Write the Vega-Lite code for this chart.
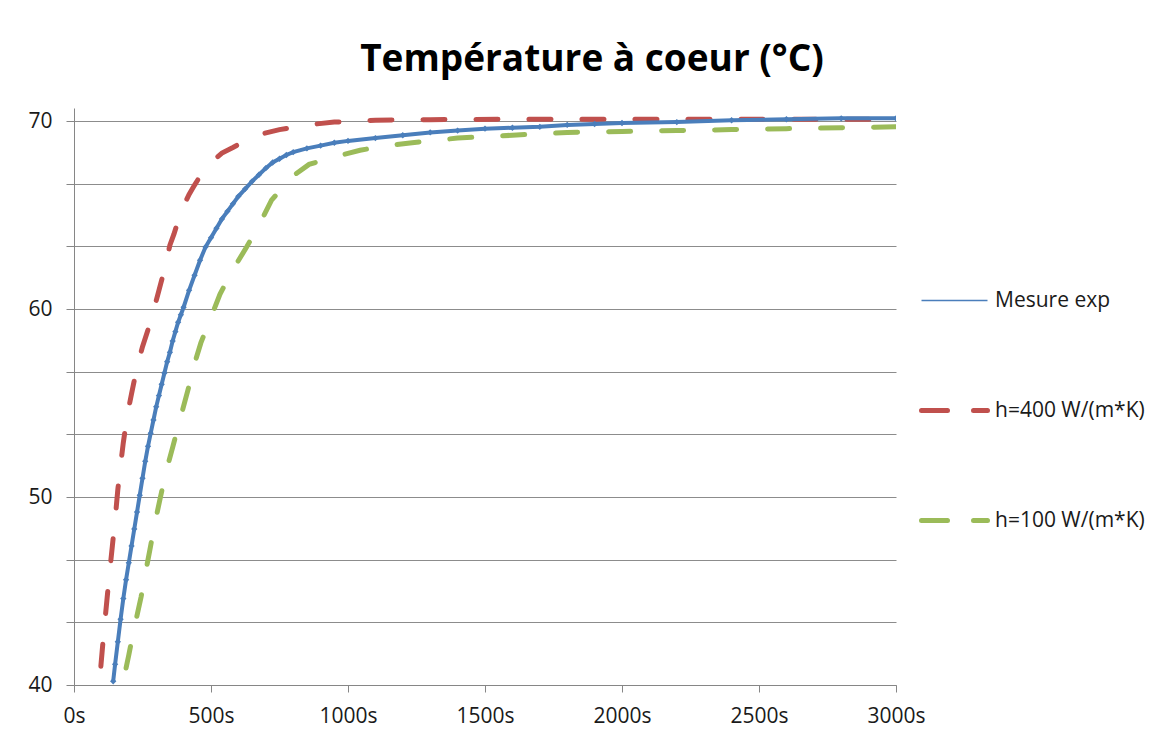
{
  "$schema": "https://vega.github.io/schema/vega-lite/v6.json",
  "width": 822,
  "height": 577,
  "autosize": {"type": "none"},
  "padding": {"left": 74, "top": 108, "right": 270, "bottom": 56},
  "background": "white",
  "title": {
    "text": "Température à coeur (°C)",
    "font": "Open Sans",
    "fontSize": 37,
    "fontWeight": "bold",
    "color": "black",
    "anchor": "middle",
    "dx": 107,
    "offset": 29
  },
  "config": {
    "view": {"stroke": null},
    "axis": {
      "labelFont": "Open Sans",
      "labelFontSize": 21,
      "labelColor": "#1a1a1a",
      "domainColor": "#868686",
      "tickColor": "#868686",
      "gridColor": "#8c8c8c",
      "title": null
    }
  },
  "data": {
    "values": [
      {"serie": "Mesure exp", "temps": 143, "temp": 40.2},
      {"serie": "Mesure exp", "temps": 150, "temp": 41.1},
      {"serie": "Mesure exp", "temps": 160, "temp": 42.3},
      {"serie": "Mesure exp", "temps": 170, "temp": 43.5},
      {"serie": "Mesure exp", "temps": 180, "temp": 44.6},
      {"serie": "Mesure exp", "temps": 190, "temp": 45.6},
      {"serie": "Mesure exp", "temps": 200, "temp": 46.5},
      {"serie": "Mesure exp", "temps": 210, "temp": 47.4},
      {"serie": "Mesure exp", "temps": 220, "temp": 48.3},
      {"serie": "Mesure exp", "temps": 230, "temp": 49.2},
      {"serie": "Mesure exp", "temps": 240, "temp": 50.1},
      {"serie": "Mesure exp", "temps": 250, "temp": 51.0},
      {"serie": "Mesure exp", "temps": 260, "temp": 51.9},
      {"serie": "Mesure exp", "temps": 270, "temp": 52.7},
      {"serie": "Mesure exp", "temps": 280, "temp": 53.4},
      {"serie": "Mesure exp", "temps": 290, "temp": 54.1},
      {"serie": "Mesure exp", "temps": 300, "temp": 54.8},
      {"serie": "Mesure exp", "temps": 310, "temp": 55.4},
      {"serie": "Mesure exp", "temps": 320, "temp": 56.0},
      {"serie": "Mesure exp", "temps": 330, "temp": 56.6},
      {"serie": "Mesure exp", "temps": 340, "temp": 57.2},
      {"serie": "Mesure exp", "temps": 350, "temp": 57.7},
      {"serie": "Mesure exp", "temps": 360, "temp": 58.3},
      {"serie": "Mesure exp", "temps": 370, "temp": 58.8},
      {"serie": "Mesure exp", "temps": 380, "temp": 59.3},
      {"serie": "Mesure exp", "temps": 390, "temp": 59.7},
      {"serie": "Mesure exp", "temps": 400, "temp": 60.1},
      {"serie": "Mesure exp", "temps": 420, "temp": 61.0},
      {"serie": "Mesure exp", "temps": 440, "temp": 61.8},
      {"serie": "Mesure exp", "temps": 460, "temp": 62.6},
      {"serie": "Mesure exp", "temps": 480, "temp": 63.3},
      {"serie": "Mesure exp", "temps": 500, "temp": 63.8},
      {"serie": "Mesure exp", "temps": 520, "temp": 64.3},
      {"serie": "Mesure exp", "temps": 540, "temp": 64.8},
      {"serie": "Mesure exp", "temps": 560, "temp": 65.2},
      {"serie": "Mesure exp", "temps": 580, "temp": 65.6},
      {"serie": "Mesure exp", "temps": 600, "temp": 66.0},
      {"serie": "Mesure exp", "temps": 625, "temp": 66.4},
      {"serie": "Mesure exp", "temps": 650, "temp": 66.8},
      {"serie": "Mesure exp", "temps": 675, "temp": 67.15},
      {"serie": "Mesure exp", "temps": 700, "temp": 67.5},
      {"serie": "Mesure exp", "temps": 725, "temp": 67.8},
      {"serie": "Mesure exp", "temps": 750, "temp": 68.0},
      {"serie": "Mesure exp", "temps": 775, "temp": 68.2},
      {"serie": "Mesure exp", "temps": 800, "temp": 68.35},
      {"serie": "Mesure exp", "temps": 850, "temp": 68.55},
      {"serie": "Mesure exp", "temps": 900, "temp": 68.7},
      {"serie": "Mesure exp", "temps": 950, "temp": 68.85},
      {"serie": "Mesure exp", "temps": 1000, "temp": 68.95},
      {"serie": "Mesure exp", "temps": 1100, "temp": 69.1},
      {"serie": "Mesure exp", "temps": 1200, "temp": 69.25},
      {"serie": "Mesure exp", "temps": 1300, "temp": 69.4},
      {"serie": "Mesure exp", "temps": 1400, "temp": 69.5},
      {"serie": "Mesure exp", "temps": 1500, "temp": 69.6},
      {"serie": "Mesure exp", "temps": 1600, "temp": 69.65},
      {"serie": "Mesure exp", "temps": 1700, "temp": 69.7},
      {"serie": "Mesure exp", "temps": 1800, "temp": 69.8},
      {"serie": "Mesure exp", "temps": 1900, "temp": 69.85},
      {"serie": "Mesure exp", "temps": 2000, "temp": 69.9},
      {"serie": "Mesure exp", "temps": 2200, "temp": 69.95},
      {"serie": "Mesure exp", "temps": 2400, "temp": 70.05},
      {"serie": "Mesure exp", "temps": 2600, "temp": 70.1},
      {"serie": "Mesure exp", "temps": 2800, "temp": 70.15},
      {"serie": "Mesure exp", "temps": 3000, "temp": 70.15},

      {"serie": "h=400 W/(m*K)", "temps": 98, "temp": 41.0},
      {"serie": "h=400 W/(m*K)", "temps": 110, "temp": 43.0},
      {"serie": "h=400 W/(m*K)", "temps": 120, "temp": 44.5},
      {"serie": "h=400 W/(m*K)", "temps": 130, "temp": 46.0},
      {"serie": "h=400 W/(m*K)", "temps": 140, "temp": 47.4},
      {"serie": "h=400 W/(m*K)", "temps": 150, "temp": 48.8},
      {"serie": "h=400 W/(m*K)", "temps": 160, "temp": 50.4},
      {"serie": "h=400 W/(m*K)", "temps": 170, "temp": 51.7},
      {"serie": "h=400 W/(m*K)", "temps": 180, "temp": 52.9},
      {"serie": "h=400 W/(m*K)", "temps": 195, "temp": 54.4},
      {"serie": "h=400 W/(m*K)", "temps": 210, "temp": 55.5},
      {"serie": "h=400 W/(m*K)", "temps": 230, "temp": 56.9},
      {"serie": "h=400 W/(m*K)", "temps": 250, "temp": 58.0},
      {"serie": "h=400 W/(m*K)", "temps": 270, "temp": 58.9},
      {"serie": "h=400 W/(m*K)", "temps": 290, "temp": 59.9},
      {"serie": "h=400 W/(m*K)", "temps": 310, "temp": 61.0},
      {"serie": "h=400 W/(m*K)", "temps": 330, "temp": 62.1},
      {"serie": "h=400 W/(m*K)", "temps": 350, "temp": 63.4},
      {"serie": "h=400 W/(m*K)", "temps": 365, "temp": 64.0},
      {"serie": "h=400 W/(m*K)", "temps": 380, "temp": 64.7},
      {"serie": "h=400 W/(m*K)", "temps": 400, "temp": 65.5},
      {"serie": "h=400 W/(m*K)", "temps": 420, "temp": 66.1},
      {"serie": "h=400 W/(m*K)", "temps": 440, "temp": 66.6},
      {"serie": "h=400 W/(m*K)", "temps": 470, "temp": 67.3},
      {"serie": "h=400 W/(m*K)", "temps": 500, "temp": 67.8},
      {"serie": "h=400 W/(m*K)", "temps": 540, "temp": 68.3},
      {"serie": "h=400 W/(m*K)", "temps": 580, "temp": 68.6},
      {"serie": "h=400 W/(m*K)", "temps": 630, "temp": 69.0},
      {"serie": "h=400 W/(m*K)", "temps": 680, "temp": 69.3},
      {"serie": "h=400 W/(m*K)", "temps": 750, "temp": 69.55},
      {"serie": "h=400 W/(m*K)", "temps": 850, "temp": 69.8},
      {"serie": "h=400 W/(m*K)", "temps": 950, "temp": 69.95},
      {"serie": "h=400 W/(m*K)", "temps": 1100, "temp": 70.05},
      {"serie": "h=400 W/(m*K)", "temps": 1300, "temp": 70.08},
      {"serie": "h=400 W/(m*K)", "temps": 1600, "temp": 70.1},
      {"serie": "h=400 W/(m*K)", "temps": 2000, "temp": 70.1},
      {"serie": "h=400 W/(m*K)", "temps": 2500, "temp": 70.1},
      {"serie": "h=400 W/(m*K)", "temps": 3000, "temp": 70.1},

      {"serie": "h=100 W/(m*K)", "temps": 190, "temp": 40.9},
      {"serie": "h=100 W/(m*K)", "temps": 200, "temp": 41.6},
      {"serie": "h=100 W/(m*K)", "temps": 215, "temp": 42.7},
      {"serie": "h=100 W/(m*K)", "temps": 230, "temp": 43.7},
      {"serie": "h=100 W/(m*K)", "temps": 245, "temp": 44.7},
      {"serie": "h=100 W/(m*K)", "temps": 260, "temp": 45.9},
      {"serie": "h=100 W/(m*K)", "temps": 277, "temp": 47.2},
      {"serie": "h=100 W/(m*K)", "temps": 295, "temp": 48.6},
      {"serie": "h=100 W/(m*K)", "temps": 314, "temp": 49.9},
      {"serie": "h=100 W/(m*K)", "temps": 335, "temp": 51.3},
      {"serie": "h=100 W/(m*K)", "temps": 361, "temp": 52.7},
      {"serie": "h=100 W/(m*K)", "temps": 390, "temp": 54.3},
      {"serie": "h=100 W/(m*K)", "temps": 416, "temp": 55.7},
      {"serie": "h=100 W/(m*K)", "temps": 440, "temp": 57.1},
      {"serie": "h=100 W/(m*K)", "temps": 463, "temp": 58.2},
      {"serie": "h=100 W/(m*K)", "temps": 490, "temp": 59.2},
      {"serie": "h=100 W/(m*K)", "temps": 533, "temp": 60.8},
      {"serie": "h=100 W/(m*K)", "temps": 580, "temp": 62.1},
      {"serie": "h=100 W/(m*K)", "temps": 630, "temp": 63.3},
      {"serie": "h=100 W/(m*K)", "temps": 680, "temp": 64.6},
      {"serie": "h=100 W/(m*K)", "temps": 721, "temp": 65.8},
      {"serie": "h=100 W/(m*K)", "temps": 770, "temp": 66.6},
      {"serie": "h=100 W/(m*K)", "temps": 810, "temp": 67.2},
      {"serie": "h=100 W/(m*K)", "temps": 858, "temp": 67.7},
      {"serie": "h=100 W/(m*K)", "temps": 950, "temp": 68.1},
      {"serie": "h=100 W/(m*K)", "temps": 1044, "temp": 68.45},
      {"serie": "h=100 W/(m*K)", "temps": 1140, "temp": 68.7},
      {"serie": "h=100 W/(m*K)", "temps": 1234, "temp": 68.85},
      {"serie": "h=100 W/(m*K)", "temps": 1400, "temp": 69.1},
      {"serie": "h=100 W/(m*K)", "temps": 1600, "temp": 69.25},
      {"serie": "h=100 W/(m*K)", "temps": 1800, "temp": 69.4},
      {"serie": "h=100 W/(m*K)", "temps": 2000, "temp": 69.45},
      {"serie": "h=100 W/(m*K)", "temps": 2200, "temp": 69.5},
      {"serie": "h=100 W/(m*K)", "temps": 2400, "temp": 69.55},
      {"serie": "h=100 W/(m*K)", "temps": 2600, "temp": 69.6},
      {"serie": "h=100 W/(m*K)", "temps": 2800, "temp": 69.65},
      {"serie": "h=100 W/(m*K)", "temps": 3000, "temp": 69.7}
    ]
  },
  "encoding": {
    "x": {
      "field": "temps",
      "type": "quantitative",
      "scale": {"domain": [0, 3000], "nice": false},
      "axis": {
        "values": [0, 500, 1000, 1500, 2000, 2500, 3000],
        "labelExpr": "datum.value + 's'",
        "grid": false,
        "tickSize": 7,
        "labelPadding": 13,
        "labelFlush": false
      }
    },
    "y": {
      "field": "temp",
      "type": "quantitative",
      "scale": {"domain": [40, 70.7], "nice": false, "zero": false},
      "axis": {
        "values": [40, 43.3333333, 46.6666667, 50, 53.3333333, 56.6666667, 60, 63.3333333, 66.6666667, 70],
        "labelExpr": "datum.value % 10 == 0 ? datum.value : ''",
        "grid": true,
        "tickSize": 8,
        "labelPadding": 14
      }
    }
  },
  "layer": [
    {
      "transform": [{"filter": "datum.serie != 'Mesure exp'"}],
      "mark": {"type": "line", "strokeWidth": 5, "strokeCap": "round", "strokeDash": [22, 31], "clip": true},
      "encoding": {
        "color": {
          "field": "serie",
          "type": "nominal",
          "scale": {
            "domain": ["Mesure exp", "h=400 W/(m*K)", "h=100 W/(m*K)"],
            "range": ["#4A7EBB", "#C0504D", "#9BBB59"]
          },
          "legend": {
            "title": null,
            "orient": "none",
            "legendX": 870,
            "legendY": 182,
            "symbolType": "stroke",
            "symbolSize": 4356,
            "rowPadding": 88,
            "labelFont": "Open Sans",
            "labelFontSize": 21,
            "labelColor": "#1a1a1a",
            "labelOffset": 30,
            "encode": {
              "symbols": {
                "update": {
                  "strokeWidth": {"signal": "datum.value === 'Mesure exp' ? 1.5 : 5"},
                  "strokeDash": {"signal": "datum.value === 'Mesure exp' ? [1, 0] : [26, 26]"},
                  "strokeCap": {"signal": "datum.value === 'Mesure exp' ? 'butt' : 'round'"}
                }
              }
            }
          }
        },
        "detail": {"field": "serie"}
      }
    },
    {
      "transform": [{"filter": "datum.serie == 'Mesure exp'"}],
      "mark": {"type": "line", "strokeWidth": 4, "clip": true},
      "encoding": {
        "color": {"field": "serie", "type": "nominal"}
      }
    },
    {
      "transform": [{"filter": "datum.serie == 'Mesure exp'"}],
      "mark": {"type": "point", "shape": "diamond", "filled": true, "size": 40, "opacity": 1, "color": "#4A7EBB", "clip": true}
    }
  ]
}
